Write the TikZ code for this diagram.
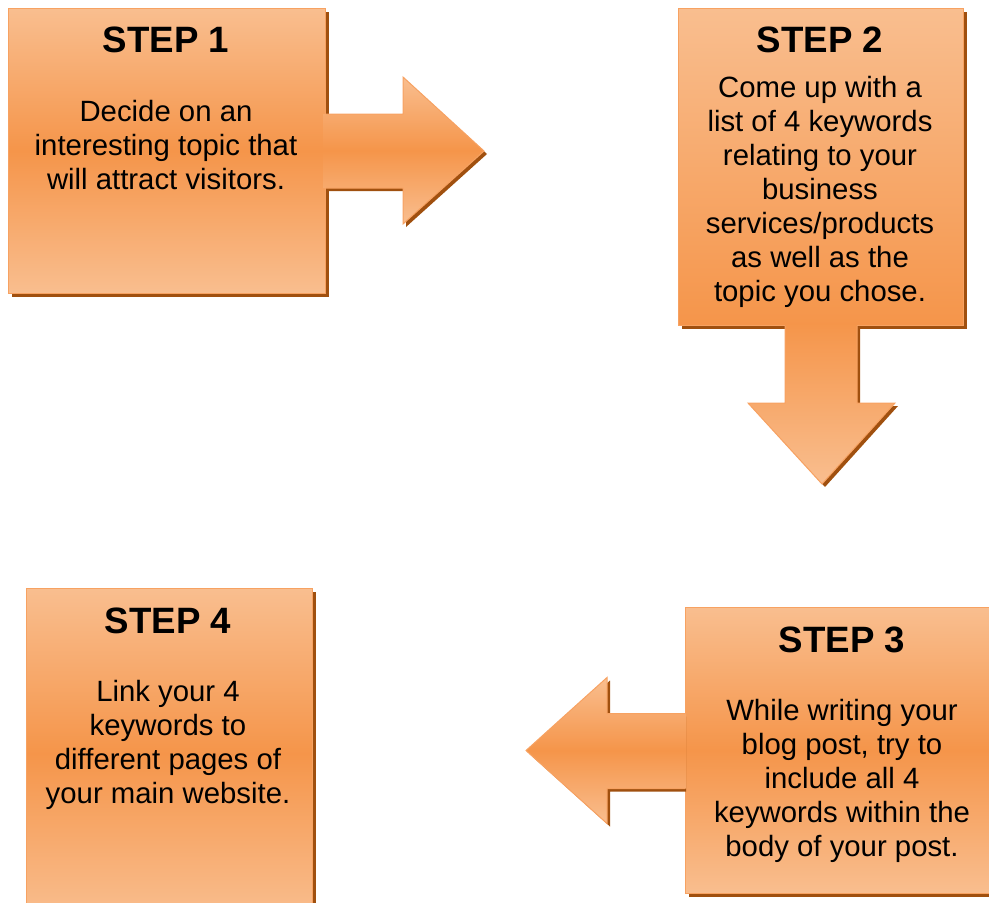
\documentclass[tikz,border=0pt]{standalone}
\usepackage{fontspec}
\setmainfont{Liberation Sans}
\usetikzlibrary{calc,shadows}

\definecolor{steplight}{HTML}{F9BE8F}
\definecolor{stepdark}{HTML}{F5954A}
\definecolor{stepedge}{HTML}{F7A262}
\definecolor{stepshadow}{HTML}{A0500F}

\tikzset{
  stepshadow/.style={drop shadow={shadow xshift=2.25pt, shadow yshift=-2.25pt, fill=stepshadow, opacity=1}},
  box/.style={rectangle, draw=stepedge, line width=0.75pt, inner sep=0pt, anchor=north west, stepshadow},
  lightdarklight/.style={top color=steplight, bottom color=steplight, middle color=stepdark},
  title/.style={font=\fontsize{27.5}{33}\selectfont\bfseries, anchor=base, inner sep=0pt},
  body/.style={font=\fontsize{22}{25.5}\selectfont, align=center, anchor=north, inner sep=0pt},
  blockarrow/.style={stepshadow},
  arrowedge/.style={draw=stepedge, line width=0.75pt, line join=miter}
}

\begin{document}
\begin{tikzpicture}[x=0.75pt, y=-0.75pt]
\useasboundingbox (0,0) rectangle (989,903);

% Step boxes
\node[box, lightdarklight, minimum width=237.75pt, minimum height=213.75pt] (s1) at (8,8) {};
\node[box, top color=steplight, bottom color=stepdark, minimum width=213.75pt, minimum height=237.75pt] (s2) at (678,8) {};
\node[box, lightdarklight, minimum width=232.5pt, minimum height=214.5pt] (s3) at (685,607) {};
\node[box, lightdarklight, minimum width=214.5pt, minimum height=247.5pt] (s4) at (26,588) {};

% Arrow from step 1 to step 2
\path[blockarrow, lightdarklight]
  ($(s1.east)+(-3,-37)$) -- ($(s1.east)+(77,-37)$) -- ($(s1.east)+(77,-74)$)
  -- ($(s1.east)+(158,0)$) -- ($(s1.east)+(77,73)$) -- ($(s1.east)+(77,37)$)
  -- ($(s1.east)+(-3,37)$) -- cycle;
\draw[arrowedge] ($(s1.east)+(0,-37)$) -- ($(s1.east)+(77,-37)$) -- ($(s1.east)+(77,-74)$)
  -- ($(s1.east)+(158,0)$) -- ($(s1.east)+(77,73)$) -- ($(s1.east)+(77,37)$)
  -- ($(s1.east)+(0,37)$);

% Arrow from step 2 to step 3
\path[blockarrow, top color=stepdark, bottom color=steplight]
  ($(s2.south)+(-36,-3)$) -- ($(s2.south)+(-36,77)$) -- ($(s2.south)+(-73,77)$)
  -- ($(s2.south)+(1,158)$) -- ($(s2.south)+(74,77)$) -- ($(s2.south)+(36,77)$)
  -- ($(s2.south)+(36,-3)$) -- cycle;
\draw[arrowedge] ($(s2.south)+(-36,0)$) -- ($(s2.south)+(-36,77)$) -- ($(s2.south)+(-73,77)$)
  -- ($(s2.south)+(1,158)$) -- ($(s2.south)+(74,77)$) -- ($(s2.south)+(36,77)$)
  -- ($(s2.south)+(36,0)$);

% Arrow from step 3 to step 4
\begin{scope}
\clip ($(s3.west)+(1,-100)$) rectangle ($(s3.west)+(-200,100)$);
\path[blockarrow, lightdarklight]
  ($(s3.west)+(4,-37)$) -- ($(s3.west)+(-78,-37)$) -- ($(s3.west)+(-78,-73)$)
  -- ($(s3.west)+(-159,0)$) -- ($(s3.west)+(-78,73)$) -- ($(s3.west)+(-78,38)$)
  -- ($(s3.west)+(4,38)$) -- cycle;
\end{scope}
\draw[arrowedge] ($(s3.west)+(0,-37)$) -- ($(s3.west)+(-78,-37)$) -- ($(s3.west)+(-78,-73)$)
  -- ($(s3.west)+(-159,0)$) -- ($(s3.west)+(-78,73)$) -- ($(s3.west)+(-78,38)$)
  -- ($(s3.west)+(0,38)$);

% Texts
\node[title] (t1) at (166,52) {STEP 1};
\node[body] (b1) at (166,100) {Decide on an\\interesting topic that\\will attract visitors.};

\node[title] (t2) at (820,52) {STEP 2};
\node[body] (b2) at (820,76) {Come up with a\\list of 4 keywords\\relating to your\\business\\services/products\\as well as the\\topic you chose.};

\node[title] (t3) at (842,652) {STEP 3};
\node[body] (b3) at (842,699) {While writing your\\blog post, try to\\include all 4\\keywords within the\\body of your post.};

\node[title] (t4) at (168,633) {STEP 4};
\node[body] (b4) at (168,680) {Link your 4\\keywords to\\different pages of\\your main website.};
\end{tikzpicture}
\end{document}
